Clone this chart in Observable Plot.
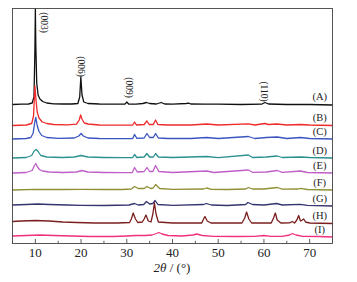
<!DOCTYPE html>
<html>
<head>
<meta charset="utf-8">
<script src="https://cdn.jsdelivr.net/npm/d3@7"></script>
<script src="https://cdn.jsdelivr.net/npm/@observablehq/plot@0.6"></script>
<style>
  html, body { margin: 0; padding: 0; background: #fff; }
</style>
</head>
<body>
<div id="chart"></div>
<script>
// Series names, colours and vertical stacking offsets
const seriesNames = ["(A)", "(B)", "(C)", "(D)", "(E)", "(F)", "(G)", "(H)", "(I)"];
const seriesColors = ["#111111", "#ee2a2a", "#3a55c0", "#2a9090", "#c05ec8", "#8f8f35", "#34346e", "#7a1e1e", "#f0307e"];
const offsets = [138.5, 117.5, 104, 85, 70, 53, 37, 19.5, 6];

// [2θ, intensity] points
const seriesA = [[5,0.5],[7,0.8],[8.5,1],[9.3,2],[9.7,8],[9.9,55],[10.0,96],[10.1,60],[10.3,22],[10.6,10],[11,6],[11.6,3.5],[12.5,2],[14,1.2],[16,1],[18,1],[19.3,1.5],[19.7,8],[19.95,28],[20.2,10],[20.6,3],[21.5,1.5],[24,1],[27,0.8],[29.6,0.8],[30.0,3],[30.4,1],[32,0.8],[33.5,1.5],[34.3,2.5],[35,1.5],[36.5,1],[37.5,2.5],[38.3,1],[40,0.8],[43,1.5],[43.5,1.8],[44,1],[47,0.8],[50,0.8],[55,0.5],[59.5,0.8],[60.2,2.5],[61,1],[65,0.5],[70,0.5],[75,0]];
const seriesB = [[5,0.5],[8,1],[9.2,2.5],[9.6,10],[9.9,40],[10.1,28],[10.4,14],[10.8,8],[11.5,4],[12.5,2.5],[14,1.5],[17,1.2],[19,1.8],[19.6,6],[19.9,11],[20.2,7],[20.7,3],[21.5,2],[24,1],[28,0.8],[31.3,1],[31.7,4],[32.1,1],[33.8,1.5],[34.4,5],[34.9,1.5],[35.8,1.5],[36.3,6],[36.8,1.5],[39,1],[44,1],[47.5,2],[50,1],[56.6,2.2],[58,1],[60.2,2.5],[61,1.5],[62.9,2],[65,1],[68,1.5],[70,1],[75,0.5]];
const seriesC = [[5,0.5],[8,1],[9,2],[9.5,6],[9.9,18],[10.1,22],[10.4,14],[10.8,8],[11.4,4],[12.5,2],[15,1.2],[18.5,1.5],[19.5,3.5],[20,6],[20.5,3.5],[21.5,1.5],[24,1],[28,0.8],[31.3,1],[31.7,5],[32.2,1.2],[33.8,1.5],[34.4,6],[35,2],[35.8,2],[36.3,6],[36.9,1.5],[39,1],[44,1],[47.5,2],[50,1],[56.6,3],[58,1],[60.5,2],[62.9,2.5],[65,1],[68,2],[70,1],[75,0.5]];
const seriesD = [[5,0.5],[8,1],[9.2,3],[9.8,8],[10.2,9],[10.6,7],[11.2,3],[12.5,1.5],[16,1],[18.5,1.5],[20,3],[21.5,1.5],[25,1],[29,0.8],[31.3,1],[31.7,4],[32.2,1],[33.8,1.5],[34.4,5],[35,1.5],[35.8,1.5],[36.3,5],[36.9,1.5],[40,1],[47.5,2],[50,0.8],[56.6,3.5],[57.5,1],[60.5,1.5],[62.9,2.5],[64,1],[68,1.5],[70,1],[75,0.5]];
const seriesE = [[5,0.5],[8,1],[9.3,3],[9.8,8],[10.1,10],[10.4,7],[10.9,4],[11.6,2.5],[13,1.5],[16,1],[19,1.5],[20.2,3],[21.5,1.5],[25,1],[29,0.8],[31.2,1],[31.7,6],[32.3,1.5],[33.8,2],[34.4,6],[35,2],[35.7,2],[36.3,8],[37,2],[40,1],[47.5,2.5],[49,1],[56.6,3.5],[57.5,1.2],[60.5,1.5],[62.9,3],[64,1.2],[68,2.5],[69.5,1],[75,0.5]];
const seriesF = [[5,0.5],[10,1.2],[12,1],[16,1],[20,1.2],[25,1],[29,1],[31,1.5],[31.7,4],[32.5,2],[33.8,2],[34.4,4],[35.2,2],[35.8,2.5],[36.3,6],[37.2,2],[40,1.2],[46.8,1.5],[47.5,2.5],[48.5,1.2],[52,1],[56,1.5],[56.6,3],[57.5,1.5],[60,1.5],[62.9,3],[64,1.3],[67.5,1.5],[68,2.2],[69.5,1],[75,0.5]];
const seriesG = [[5,1.5],[8,2],[10.5,2.5],[13,2],[17,1.5],[20,1.2],[25,1],[30.5,1.5],[31.7,3],[32.5,1.5],[33.7,2],[34.3,5],[35,2.5],[35.7,3],[36.2,6],[36.8,2],[40,1.2],[46.8,2],[47.4,3],[48.5,1.5],[52,1],[56,2],[56.5,4],[57.5,2],[60,1.5],[62.8,3],[64,1.5],[67.9,2.2],[69.5,1.2],[75,0.5]];
const seriesH = [[5,2.5],[7,3],[10,3.5],[13,3],[16,2],[19,1.5],[23,1],[28,1],[30.6,1.5],[31.0,5],[31.4,11],[31.9,5],[32.4,1.5],[33.4,2],[33.8,5],[34.2,9],[34.7,3],[35.3,2],[35.7,10],[36.05,21],[36.4,10],[36.9,2],[40,1],[46.4,1],[46.8,5],[47.1,7.5],[47.6,3],[48.4,1],[55.2,1],[55.8,6],[56.2,12],[56.7,5],[57.3,1],[61.6,1],[62.1,6],[62.5,11],[62.9,4],[63.7,1],[65.7,1.2],[66.2,2.5],[66.7,1],[67.2,4],[67.6,8.5],[68.0,3],[68.4,4],[68.7,5],[69.1,2],[70,1],[75,0.5]];
const seriesI = [[5,1.5],[8,2],[11,2.5],[14,2],[18,1.5],[22,1],[27,1],[30,1.5],[32,2],[34,2],[35.5,2.5],[36.5,4],[37,5],[37.7,3.5],[39,2],[42,1.5],[44.5,2.5],[45.3,3.5],[46.5,2],[49,1.2],[54,1],[58,1.2],[60,2],[61.5,1.2],[64,1.2],[65.6,2.5],[66.2,4],[67,2.5],[68.5,1.2],[72,1],[75,0.5]];
const allSeries = [seriesA, seriesB, seriesC, seriesD, seriesE, seriesF, seriesG, seriesH, seriesI];

// Peak (hkl) annotations
const peakLabels = ["(003)", "(006)", "(009)", "(110)"];
const peakX = [11.8, 19.9, 30.4, 60.1];
const peakY = [221, 177, 156, 152];

// Axis ticks
const majorTicks = [10, 20, 30, 40, 50, 60, 70];
const minorTicks = [5, 15, 25, 35, 45, 55, 65, 75];

// Build table
const rows = [];
allSeries.forEach((s, i) => {
  s.forEach(([t, v]) => rows.push({series: seriesNames[i], theta: t, y: offsets[i] + v}));
});
const labelRows = seriesNames.map((n, i) => ({name: n, y: offsets[i] + 8}));
const peakRows = peakLabels.map((l, i) => ({label: l, x: peakX[i], y: peakY[i]}));

const plot = Plot.plot({
  width: 357,
  height: 282,
  marginTop: 8,
  marginLeft: 12,
  marginRight: 25,
  marginBottom: 39,
  style: {fontFamily: "'Liberation Serif', 'DejaVu Serif', serif", fontSize: "13px", background: "#fff", color: "#222"},
  x: {domain: [5, 75], ticks: majorTicks, tickSize: 0, tickPadding: 4, label: null},
  y: {domain: [0, 235], axis: null},
  color: {domain: seriesNames, range: seriesColors},
  marks: [
    Plot.line(rows, {x: "theta", y: "y", z: "series", stroke: "series", strokeWidth: 1.3}),
    Plot.ruleX(majorTicks, {x: d => d, y1: 0, y2: 4, stroke: "#333", strokeWidth: 0.8}),
    Plot.ruleX(minorTicks, {x: d => d, y1: 0, y2: 2.2, stroke: "#333", strokeWidth: 0.8}),
    Plot.text(labelRows, {x: 72.2, y: "y", text: "name", fill: "#222", fontSize: 10.5}),
    Plot.text(peakRows, {x: "x", y: "y", text: "label", rotate: 90, fill: "#222", fontSize: 9.5}),
    Plot.frame({stroke: "#444", strokeWidth: 0.9})
  ]
});

const svg = d3.select(plot);
const t = svg.append("text")
  .attr("x", 172).attr("y", 272)
  .attr("text-anchor", "middle")
  .attr("font-size", 13)
  .attr("fill", "#222");
t.append("tspan").attr("font-style", "italic").text("2θ");
t.append("tspan").text(" / (°)");

document.getElementById("chart").appendChild(plot);
</script>
</body>
</html>
